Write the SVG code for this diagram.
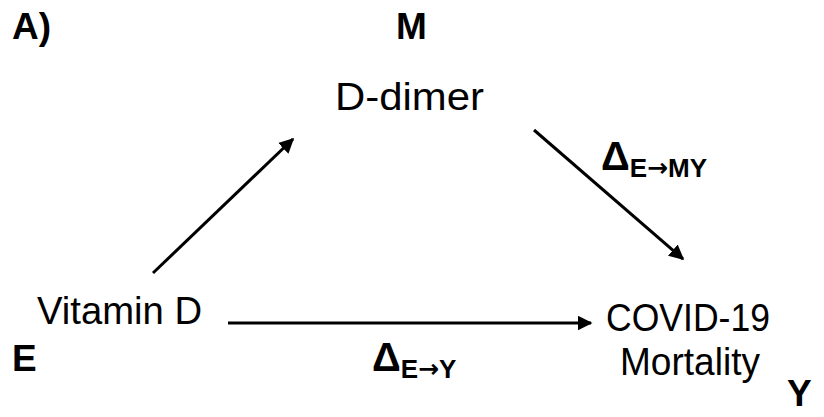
<svg xmlns="http://www.w3.org/2000/svg" width="824" height="417" viewBox="0 0 824 417">
<style>
text{font-family:"Liberation Sans",Arial,sans-serif;fill:#000}
.lbl{font-size:38px}
.var{font-size:37px;font-weight:bold}
.d{font-size:40px;font-weight:bold}
.sub{font-size:26px;font-weight:bold}
.ar{font-family:"DejaVu Sans",sans-serif;font-size:25px;font-weight:bold}
.c{stroke:#000;stroke-width:3;fill:none}
</style>
<defs>
<marker id="ah" viewBox="0 0 10 10" refX="9" refY="5" markerWidth="5" markerHeight="5" orient="auto" markerUnits="strokeWidth">
<path d="M0,0 L10,5 L0,10 z" fill="#000"/>
</marker>
</defs>
<rect width="824" height="417" fill="#fff"/>
<text class="var" x="12" y="39">A)</text>
<g id="M">
<text class="var" x="396" y="39">M</text>
<text class="lbl" x="335" y="110" textLength="149" lengthAdjust="spacingAndGlyphs">D-dimer</text>
</g>
<g id="E">
<text class="lbl" x="37" y="324" textLength="165" lengthAdjust="spacingAndGlyphs">Vitamin D</text>
<text class="var" x="12" y="371">E</text>
</g>
<g id="Y">
<text class="lbl" x="606" y="331" textLength="164" lengthAdjust="spacingAndGlyphs">COVID-19</text>
<text class="lbl" x="620" y="375" textLength="140" lengthAdjust="spacingAndGlyphs">Mortality</text>
<text class="var" x="787" y="406">Y</text>
</g>
<g id="connectors">
<line class="c" x1="153" y1="273" x2="293" y2="139" marker-end="url(#ah)"/>
<line class="c" x1="534" y1="130" x2="683" y2="259" marker-end="url(#ah)"/>
<line class="c" x1="228" y1="323" x2="591" y2="323" marker-end="url(#ah)"/>
</g>
<g id="labels">
<text x="601" y="170"><tspan class="d">Δ</tspan><tspan class="sub" y="177">E</tspan><tspan class="ar" dy="-1">→</tspan><tspan class="sub" dy="1">MY</tspan></text>
<text x="372" y="371"><tspan class="d">Δ</tspan><tspan class="sub" y="378">E</tspan><tspan class="ar" dy="-1">→</tspan><tspan class="sub" dy="1">Y</tspan></text>
</g>
</svg>
